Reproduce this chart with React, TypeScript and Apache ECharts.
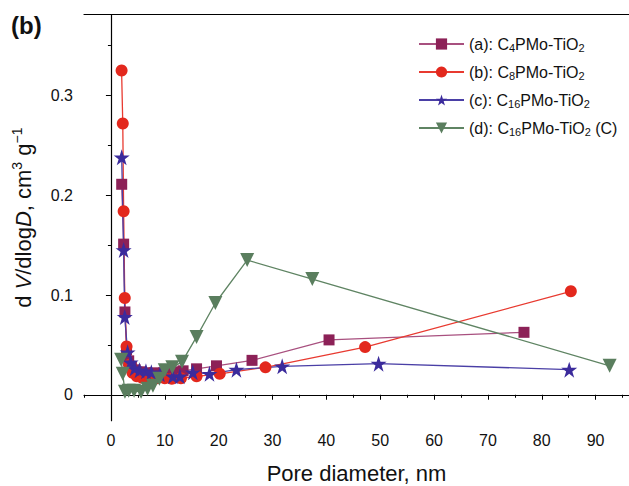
import React, { useEffect, useRef } from "react";
import * as echarts from "echarts";

const aX = [2.0, 2.36, 2.6, 2.9, 3.3, 3.8, 4.5, 5.4, 6.5, 8.0, 9.8, 11.5, 13.4, 15.9, 19.6, 26.2, 40.5, 76.7];
const aY = [0.211, 0.151, 0.083, 0.045, 0.034, 0.028, 0.025, 0.023, 0.022, 0.022, 0.022, 0.023, 0.024, 0.026, 0.029, 0.0345, 0.055, 0.0626];

const bX = [1.98, 2.2, 2.36, 2.57, 2.9, 3.4, 4.0, 4.8, 5.8, 7.0, 8.5, 10.0, 11.3, 13.0, 15.9, 20.2, 28.7, 47.2, 85.4];
const bY = [0.325, 0.272, 0.184, 0.097, 0.0485, 0.03, 0.022, 0.0185, 0.017, 0.0165, 0.0165, 0.0165, 0.016, 0.0165, 0.0185, 0.021, 0.0275, 0.0478, 0.1037];

const cX = [2.0, 2.36, 2.57, 3.1, 3.66, 4.4, 5.3, 6.5, 7.5, 9.1, 11.5, 12.8, 15.2, 18.3, 23.3, 31.8, 49.7, 85.1];
const cY = [0.238, 0.145, 0.078, 0.0425, 0.0325, 0.0265, 0.0245, 0.0235, 0.0225, 0.0205, 0.0185, 0.0185, 0.0225, 0.021, 0.0252, 0.0285, 0.0312, 0.0252];

const dX = [1.9, 2.2, 2.6, 3.3, 4.3, 5.6, 6.8, 7.8, 9.0, 10.0, 11.4, 13.2, 15.9, 19.4, 25.3, 37.4, 92.6];
const dY = [0.035, 0.021, 0.003, 0.004, 0.004, 0.003, 0.006, 0.009, 0.016, 0.0245, 0.0275, 0.033, 0.058, 0.092, 0.135, 0.116, 0.029];

const seriesNames = [
  "(a): C{s|4}PMo-TiO{s|2}",
  "(b): C{s|8}PMo-TiO{s|2}",
  "(c): C{s|16}PMo-TiO{s|2}",
  "(d): C{s|16}PMo-TiO{s|2} (C)",
];

const xMajor = [0, 10, 20, 30, 40, 50, 60, 70, 80, 90];
const xMinor = [-5, 5, 15, 25, 35, 45, 55, 65, 75, 85, 95];
const yMajor = [0, 0.1, 0.2, 0.3];
const yMinor = [0.05, 0.15, 0.25, 0.35];

const zip = (xs: number[], ys: number[]) => xs.map((x, i) => [x, ys[i]]);

const FONT = "Liberation Sans, Arial, sans-serif";
const STAR = "path://M50,0 L61.8,35.1 L98.9,35.1 L68.9,56.9 L80.3,91.9 L50,70.2 L19.7,91.9 L31.1,56.9 L1.1,35.1 L38.2,35.1 Z";

export default function App() {
  const ref = useRef<HTMLDivElement>(null);
  useEffect(() => {
    const chart = echarts.init(ref.current!, null, { renderer: "svg" });
    const X_MIN = -5, X_MAX = 96.2, Y_MIN = -0.026, Y_MAX = 0.381;
    const mkSeries = (name: string, xs: number[], ys: number[], color: string, lineColor: string, symbol: string, size: number, rotate = 0) => ({
      type: "line",
      name,
      data: zip(xs, ys),
      symbol,
      symbolSize: size,
      symbolRotate: rotate,
      itemStyle: { color, opacity: 1 },
      lineStyle: { color: lineColor, width: 1.3 },
      xAxisIndex: 0,
      yAxisIndex: 0,
    });
    chart.setOption({
      animation: false,
      textStyle: { fontFamily: FONT },
      grid: { left: 84, right: 0, top: 14.7, bottom: 65.3, containLabel: false, outerBoundsMode: "none" },
      xAxis: [
        {
          type: "value", min: X_MIN, max: X_MAX, position: "bottom",
          axisLine: { show: true, lineStyle: { color: "#000", width: 1.2 } },
          axisTick: { show: true, inside: false, length: 5, customValues: xMajor, lineStyle: { color: "#000", width: 1 } },
          axisLabel: { show: true, customValues: xMajor, margin: 12, fontSize: 16, color: "#111", fontFamily: FONT },
          splitLine: { show: false },
          name: "Pore diameter, nm", nameLocation: "middle", nameGap: 42,
          nameTextStyle: { fontSize: 22, lineHeight: 22, color: "#111", fontFamily: FONT },
        },
        {
          type: "value", min: X_MIN, max: X_MAX, position: "bottom",
          axisLine: { show: false },
          axisTick: { show: true, inside: false, length: 3, customValues: xMinor, lineStyle: { color: "#000", width: 1 } },
          axisLabel: { show: false },
          splitLine: { show: false },
        },
        {
          type: "value", min: X_MIN, max: X_MAX, position: "top",
          axisLine: { show: true, lineStyle: { color: "#000", width: 1.2 } },
          axisTick: { show: false }, axisLabel: { show: false }, splitLine: { show: false },
        },
      ],
      yAxis: [
        {
          type: "value", min: Y_MIN, max: Y_MAX, position: "left",
          axisLine: { show: true, lineStyle: { color: "#000", width: 1.2 } },
          axisTick: { show: true, inside: false, length: 5, customValues: yMajor, lineStyle: { color: "#000", width: 1 } },
          axisLabel: { show: true, customValues: yMajor, margin: 11, fontSize: 16, color: "#111", fontFamily: FONT },
          splitLine: { show: false },
          name: "d {i|V}/dlog{i|D}, cm{sup|3} g{sup|−1}",
          nameLocation: "middle", nameGap: 48, nameRotate: 90,
          nameTextStyle: {
            fontSize: 22, color: "#111", fontFamily: FONT, lineHeight: 26,
            rich: {
              i: { fontSize: 22, fontStyle: "italic", color: "#111", fontFamily: FONT, lineHeight: 26 },
              sup: { fontSize: 14, color: "#111", fontFamily: FONT, lineHeight: 14, verticalAlign: "top" },
            },
          },
        },
        {
          type: "value", min: Y_MIN, max: Y_MAX, position: "left",
          axisLine: { show: false },
          axisTick: { show: true, inside: false, length: 3, customValues: yMinor, lineStyle: { color: "#000", width: 1 } },
          axisLabel: { show: false },
          splitLine: { show: false },
        },
      ],
      legend: {
        show: true, orient: "vertical", left: 418, top: 35, padding: 0,
        itemWidth: 45, itemHeight: 14, itemGap: 10,
        data: seriesNames,
        formatter: (n: string) => n,
        textStyle: {
          fontSize: 16, color: "#111", fontFamily: FONT, lineHeight: 18,
          rich: {
            s: { fontSize: 11, color: "#111", fontFamily: FONT, lineHeight: 11, verticalAlign: "bottom" },
          },
        },
      },
      series: [
        mkSeries(seriesNames[0], aX, aY, "#8C2157", "#A8507F", "rect", 11),
        mkSeries(seriesNames[1], bX, bY, "#E3281D", "#E83A30", "circle", 12),
        mkSeries(seriesNames[2], cX, cY, "#3B2B9C", "#4A3FA6", STAR, 16),
        mkSeries(seriesNames[3], dX, dY, "#5A7E5E", "#5F8463", "triangle", 14, 180),
      ],
      graphic: [
        { type: "text", left: 11, top: 13, style: { text: "(b)", font: "bold 24px Liberation Sans, Arial, sans-serif", fill: "#111" } },
      ],
    });
    return () => chart.dispose();
  }, []);
  return <div ref={ref} style={{ position: "fixed", left: 0, top: 0, width: 629, height: 486, background: "#fff" }} />;
}
